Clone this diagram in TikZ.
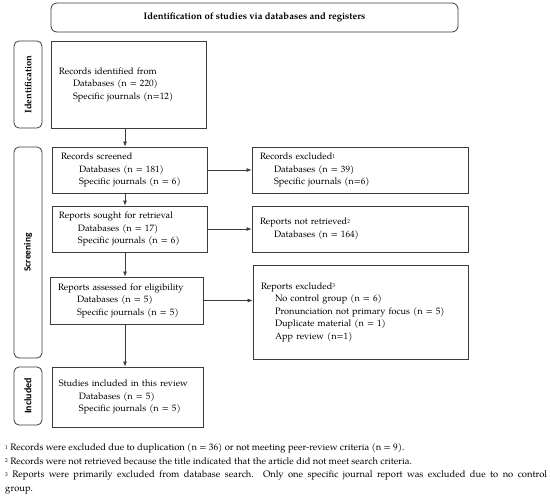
\documentclass[tikz,border=0pt]{standalone}
\usepackage{fontspec}
\setmainfont{TeX Gyre Pagella}
\newfontfamily\calib{Carlito}
\usetikzlibrary{arrows.meta}
\definecolor{boxc}{HTML}{3C3C3C}
\newcommand{\fn}[1]{\raisebox{0.35ex}{\fontsize{5.5}{6}\selectfont #1}}
\begin{document}
\begin{tikzpicture}[x=1pt,y=-1pt,
  font=\fontsize{9.2}{12.5}\selectfont,
  box/.style={draw=boxc, line width=0.8pt, rectangle, align=left, inner ysep=0pt},
  sidebox/.style={draw=boxc, line width=0.8pt, rectangle, rounded corners=5pt, inner sep=0pt, rotate=90},
  arr/.style={draw=boxc, line width=0.7pt, -{Latex[length=5pt,width=4pt]}}]
\useasboundingbox[fill=white] (0,0) rectangle (550,498);

% title
\node[draw=boxc, line width=0.8pt, rounded corners=6pt, minimum width=407pt, minimum height=29pt, inner sep=0pt,
  font=\fontsize{9.5}{10}\selectfont\bfseries] (title) at (254.5,17.5) {Identification of studies via databases and registers};

% side labels
\node[sidebox, minimum width=87pt, minimum height=28pt, font=\fontsize{9.4}{10}\selectfont\bfseries] (sideid) at (28,84.5) {Identification};
\node[sidebox, minimum width=211pt, minimum height=28pt, font=\calib\fontsize{9.5}{10}\selectfont\bfseries] (sidescr) at (28,252.5) {Screening};
\node[sidebox, minimum width=58pt, minimum height=28pt, font=\calib\fontsize{10}{10}\selectfont\bfseries] (sideinc) at (28,396) {Included};

% left boxes
\node[box, minimum width=155pt, minimum height=87pt, inner xsep=8pt, text width=139pt] (ident) at (128.5,84.5)
 {Records identified from\\\hspace*{14pt}Databases (n = 220)\\\hspace*{14pt}Specific journals (n=12)};
\node[box, minimum width=155pt, minimum height=46pt, inner xsep=9pt, text width=137pt] (scr) at (129.5,170)
 {Records screened\\\hspace*{18pt}Databases (n = 181)\\\hspace*{18pt}Specific journals (n = 6)};
\node[box, minimum width=155pt, minimum height=46pt, inner xsep=7pt, text width=141pt] (sought) at (129.5,229)
 {Reports sought for retrieval\\\hspace*{19pt}Databases (n = 17)\\\hspace*{19pt}Specific journals (n = 6)};
\node[box, minimum width=153pt, minimum height=47pt, inner xsep=8pt, text width=137pt] (assess) at (126.5,300.5)
 {Reports assessed for eligibility\\\hspace*{19pt}Databases (n = 5)\\\hspace*{19pt}Specific journals (n = 5)};
\node[box, minimum width=151pt, minimum height=60pt, inner xsep=7pt, text width=137pt] (incl) at (127.5,397)
 {Studies included in this review\\\hspace*{20pt}Databases (n = 5)\\\hspace*{20pt}Specific journals (n = 5)};

% right boxes
\node[box, minimum width=216pt, minimum height=46pt, inner xsep=8pt, text width=200pt] (excl) at (360,170)
 {Records excluded\fn{1}\\\hspace*{14pt}Databases (n = 39)\\\hspace*{14pt}Specific journals (n=6)};
\node[box, minimum width=216pt, minimum height=46pt, inner xsep=8pt, text width=200pt] (notret) at (360,229)
 {Reports not retrieved\fn{2}\\\hspace*{14pt}Databases (n = 164)};
\node[box, minimum width=215pt, minimum height=94pt, inner xsep=8pt, text width=199pt] (repexcl) at (360.5,312)
 {Reports excluded\fn{3}\\\hspace*{14pt}No control group (n = 6)\\\hspace*{14pt}Pronunciation not primary focus (n = 5)\\\hspace*{14pt}Duplicate material (n = 1)\\\hspace*{14pt}App review (n=1)};

% connectors
\coordinate (ax) at (125,0);
\draw[arr] (ident.south -| ax) -- (scr.north -| ax);
\draw[arr] (scr.south -| ax) -- (sought.north -| ax);
\draw[arr] (sought.south -| ax) -- (assess.north -| ax);
\draw[arr] (assess.south -| ax) -- (incl.north -| ax);
\draw[arr] (scr.east) -- (excl.west |- scr.east);
\draw[arr] (sought.east) -- (notret.west |- sought.east);
\draw[arr] (assess.east) -- (repexcl.west |- assess.east);

% footnotes
\node[anchor=north west, align=left, inner sep=0pt, font=\fontsize{9.4}{13.5}\selectfont] (notes) at (5,443.5)
 {\fn{1} Records were excluded due to duplication (n = 36) or not meeting peer-review criteria (n = 9).\\
  \fn{2} Records were not retrieved because the title indicated that the article did not meet search criteria.\\
  \makebox[542pt][s]{\fn{3} Reports were primarily excluded from database search. Only one specific journal report was excluded due to no control}\\
  group.};
\end{tikzpicture}
\end{document}
